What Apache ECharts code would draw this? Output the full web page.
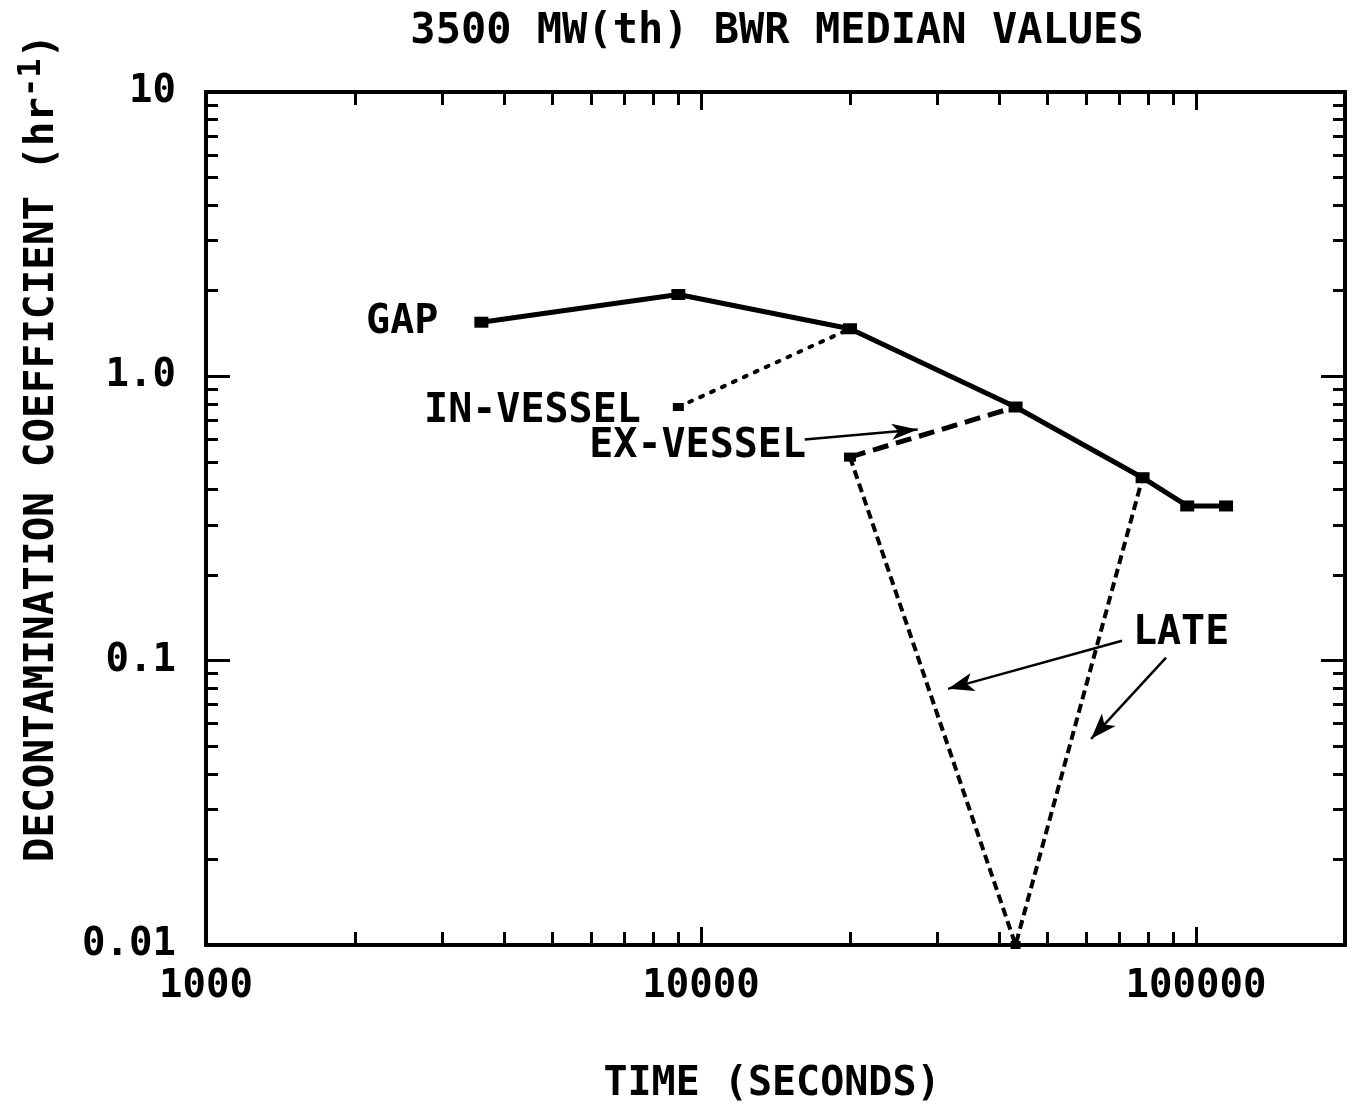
<!DOCTYPE html>
<html>
<head>
<meta charset="utf-8">
<script src="https://cdn.jsdelivr.net/npm/echarts@6/dist/echarts.min.js"></script>
<style>
  html, body { margin: 0; padding: 0; background: #fff; }
  #main { width: 1358px; height: 1105px; }
</style>
</head>
<body>
<div id="main"></div>
<script>
// time (s) and decontamination coefficient (1/hr)
var gapTime = [3600, 9000, 20000, 43200, 78000, 96000, 115000];
var gapCoef = [1.55, 1.94, 1.47, 0.78, 0.44, 0.35, 0.35];

var inVesselTime = [9000, 20000];
var inVesselCoef = [0.78, 1.47];

var exVesselTime = [20000, 43200];
var exVesselCoef = [0.52, 0.78];

var lateTime = [20000, 43200, 78000];
var lateCoef = [0.52, 0.01, 0.44];

var xMajorTicks = [1000, 10000, 100000];
var xMinorTicks = [2000, 3000, 4000, 5000, 6000, 7000, 8000, 9000,
    20000, 30000, 40000, 50000, 60000, 70000, 80000, 90000, 200000];
var yMajorTicks = [0.01, 0.1, 1, 10];
var yMinorTicks = [0.02, 0.03, 0.04, 0.05, 0.06, 0.07, 0.08, 0.09,
    0.2, 0.3, 0.4, 0.5, 0.6, 0.7, 0.8, 0.9,
    2, 3, 4, 5, 6, 7, 8, 9];
var yTickText = { '0.01': '0.01', '0.1': '0.1', '1': '1.0', '10': '10' };

// annotation arrows [fromTime, fromCoef, toTime, toCoef]
var exVesselArrow = [16200, 0.60, 27400, 0.65];
var lateArrows = [
    [70900, 0.1175, 31550, 0.0796],
    [87000, 0.1025, 61400, 0.0531]
];
var lateLabelAt = [93300, 0.124];

var FONT = 'DejaVu Sans Mono';

function zip(xs, ys) {
    var out = [];
    for (var i = 0; i < xs.length; i++) {
        out.push([xs[i], ys[i]]);
    }
    return out;
}

function arrowLine(a) {
    return [{ coord: [a[0], a[1]] }, { coord: [a[2], a[3]] }];
}

function xAxisDef(position, ticks, len, withLabels) {
    return {
        type: 'log',
        logBase: 10,
        min: 1000,
        max: 200000,
        position: position,
        axisLine: { show: true, onZero: false, lineStyle: { color: '#000', width: 4 } },
        axisTick: { show: true, inside: true, length: len, customValues: ticks,
            lineStyle: { color: '#000', width: 3 } },
        axisLabel: withLabels ? {
            show: true, customValues: xMajorTicks, margin: 22,
            fontFamily: FONT, fontWeight: 'bold', fontSize: 39, color: '#000',
            formatter: function (v) { return String(Math.round(v)); }
        } : { show: false },
        splitLine: { show: false },
        minorTick: { show: false }
    };
}

function yAxisDef(position, ticks, len, withLabels) {
    return {
        type: 'log',
        logBase: 10,
        min: 0.01,
        max: 10,
        position: position,
        axisLine: { show: true, onZero: false, lineStyle: { color: '#000', width: 4 } },
        axisTick: { show: true, inside: true, length: len, customValues: ticks,
            lineStyle: { color: '#000', width: 3 } },
        axisLabel: withLabels ? {
            show: true, customValues: yMajorTicks, margin: 30,
            fontFamily: FONT, fontWeight: 'bold', fontSize: 39, color: '#000',
            formatter: function (v) {
                var k = String(+v.toPrecision(3));
                return yTickText[k] || k;
            }
        } : { show: false },
        splitLine: { show: false },
        minorTick: { show: false }
    };
}

var gapData = zip(gapTime, gapCoef).map(function (p, i) {
    var item = { value: p };
    if (i === 0) {
        item.label = { show: true, formatter: 'GAP', position: 'left', distance: 36 };
    }
    return item;
});
var inVesselData = zip(inVesselTime, inVesselCoef).map(function (p, i) {
    var item = { value: p };
    if (i === 0) {
        item.label = { show: true, formatter: 'IN-VESSEL', position: 'left', distance: 32,
            offset: [0, 5] };
    }
    return item;
});
var exVesselData = zip(exVesselTime, exVesselCoef).map(function (p, i) {
    var item = { value: p };
    if (i === 0) {
        item.label = { show: true, formatter: 'EX-VESSEL', position: 'left', distance: 38,
            offset: [0, -10] };
    }
    return item;
});

var labelStyle = {
    fontFamily: FONT, fontWeight: 'bold', fontSize: 40, color: '#000'
};

var chart = echarts.init(document.getElementById('main'));

chart.setOption({
    backgroundColor: '#fff',
    animation: false,
    title: {
        text: '3500 MW(th) BWR MEDIAN VALUES',
        left: 772,
        textAlign: 'center',
        top: 6,
        textStyle: { fontFamily: FONT, fontWeight: 'bold', fontSize: 42, color: '#000' }
    },
    grid: { left: 206, right: 13, top: 92, bottom: 160, containLabel: false },
    xAxis: [
        xAxisDef('bottom', xMinorTicks, 13, true),
        xAxisDef('bottom', xMajorTicks, 18, false),
        xAxisDef('top', xMinorTicks, 13, false),
        xAxisDef('top', xMajorTicks, 18, false)
    ],
    yAxis: [
        yAxisDef('left', yMinorTicks, 12, true),
        yAxisDef('left', yMajorTicks, 24, false),
        yAxisDef('right', yMinorTicks, 12, false),
        yAxisDef('right', yMajorTicks, 24, false)
    ],
    graphic: [
        {
            type: 'text',
            x: 42,
            y: 448,
            rotation: Math.PI / 2,
            style: {
                text: 'DECONTAMINATION COEFFICIENT (hr{sup|-1})',
                fontFamily: FONT,
                fontWeight: 'bold',
                fontSize: 41,
                fill: '#000',
                align: 'center',
                verticalAlign: 'middle',
                rich: {
                    sup: { fontFamily: FONT, fontWeight: 'bold', fontSize: 32,
                        verticalAlign: 'top', padding: [0, 0, 20, 0], fill: '#000' }
                }
            }
        },
        {
            type: 'text',
            x: 772,
            y: 1085,
            style: {
                text: 'TIME (SECONDS)',
                fontFamily: FONT,
                fontWeight: 'bold',
                fontSize: 40,
                fill: '#000',
                align: 'center',
                verticalAlign: 'middle'
            }
        }
    ],
    series: [
        {
            name: 'LATE',
            type: 'line',
            data: zip(lateTime, lateCoef),
            symbol: 'rect',
            symbolSize: [10, 8],
            itemStyle: { color: '#000' },
            lineStyle: { color: '#000', width: 4, type: [9, 5] },
            markLine: {
                silent: true,
                symbol: ['none', 'arrow'],
                symbolSize: [14, 26],
                label: { show: false },
                lineStyle: { color: '#000', width: 2.5, type: 'solid' },
                data: lateArrows.map(arrowLine)
            },
            markPoint: {
                symbol: 'rect',
                symbolSize: 1,
                itemStyle: { color: 'rgba(0,0,0,0)' },
                label: { show: true, formatter: 'LATE', position: 'inside',
                    fontFamily: FONT, fontWeight: 'bold', fontSize: 40, color: '#000' },
                data: [{ coord: lateLabelAt }]
            }
        },
        {
            name: 'EX-VESSEL',
            type: 'line',
            data: exVesselData,
            symbol: 'rect',
            symbolSize: [12, 9],
            itemStyle: { color: '#000' },
            label: labelStyle,
            lineStyle: { color: '#000', width: 5, type: [16, 8] },
            markLine: {
                silent: true,
                symbol: ['none', 'arrow'],
                symbolSize: [12, 26],
                label: { show: false },
                lineStyle: { color: '#000', width: 2.5, type: 'solid' },
                data: [arrowLine(exVesselArrow)]
            }
        },
        {
            name: 'IN-VESSEL',
            type: 'line',
            data: inVesselData,
            symbol: 'rect',
            symbolSize: [11, 8],
            itemStyle: { color: '#000' },
            label: labelStyle,
            lineStyle: { color: '#000', width: 4, type: [3, 9], cap: 'round' }
        },
        {
            name: 'GAP',
            type: 'line',
            data: gapData,
            symbol: 'rect',
            symbolSize: [14, 11],
            itemStyle: { color: '#000' },
            label: labelStyle,
            lineStyle: { color: '#000', width: 5, type: 'solid' }
        }
    ]
});
</script>
</body>
</html>
